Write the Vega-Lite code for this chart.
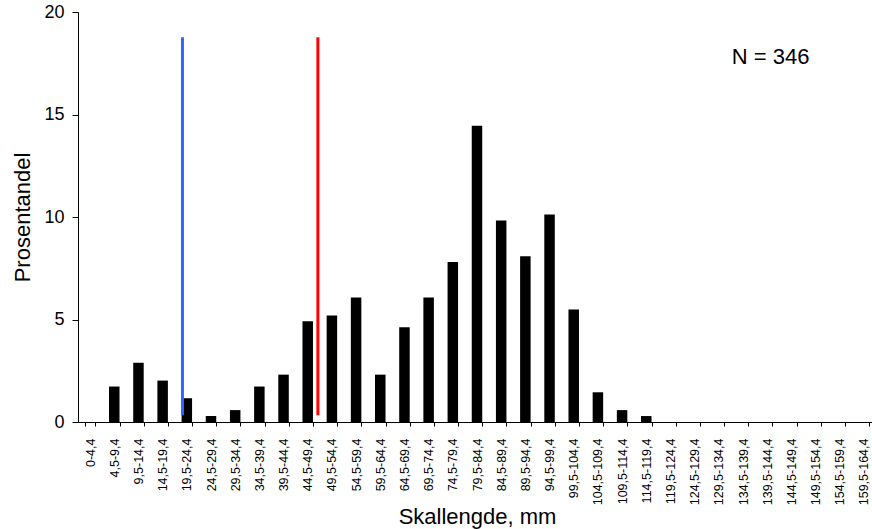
{
  "$schema": "https://vega.github.io/schema/vega-lite/v6.json",
  "autosize": {"type": "none"},
  "padding": {"left": 78, "top": 12, "right": 0, "bottom": 107},
  "width": 794,
  "height": 410,
  "config": {
    "view": {"stroke": null},
    "font": "Liberation Sans",
    "axis": {"domainColor": "black", "tickColor": "black", "labelColor": "black", "titleColor": "black", "grid": false, "labelFont": "Liberation Sans", "titleFont": "Liberation Sans", "titleFontWeight": "normal"}
  },
  "datasets": {
    "bars": [
      {"klasse": "0-4,4", "prosent": 0},
      {"klasse": "4,5-9,4", "prosent": 1.73},
      {"klasse": "9,5-14,4", "prosent": 2.89},
      {"klasse": "14,5-19,4", "prosent": 2.02},
      {"klasse": "19,5-24,4", "prosent": 1.16},
      {"klasse": "24,5-29,4", "prosent": 0.29},
      {"klasse": "29,5-34,4", "prosent": 0.58},
      {"klasse": "34,5-39,4", "prosent": 1.73},
      {"klasse": "39,5-44,4", "prosent": 2.31},
      {"klasse": "44,5-49,4", "prosent": 4.91},
      {"klasse": "49,5-54,4", "prosent": 5.2},
      {"klasse": "54,5-59,4", "prosent": 6.07},
      {"klasse": "59,5-64,4", "prosent": 2.31},
      {"klasse": "64,5-69,4", "prosent": 4.62},
      {"klasse": "69,5-74,4", "prosent": 6.07},
      {"klasse": "74,5-79,4", "prosent": 7.8},
      {"klasse": "79,5-84,4", "prosent": 14.45},
      {"klasse": "84,5-89,4", "prosent": 9.83},
      {"klasse": "89,5-94,4", "prosent": 8.09},
      {"klasse": "94,5-99,4", "prosent": 10.12},
      {"klasse": "99,5-104,4", "prosent": 5.49},
      {"klasse": "104,5-109,4", "prosent": 1.45},
      {"klasse": "109,5-114,4", "prosent": 0.58},
      {"klasse": "114,5-119,4", "prosent": 0.29},
      {"klasse": "119,5-124,4", "prosent": 0},
      {"klasse": "124,5-129,4", "prosent": 0},
      {"klasse": "129,5-134,4", "prosent": 0},
      {"klasse": "134,5-139,4", "prosent": 0},
      {"klasse": "139,5-144,4", "prosent": 0},
      {"klasse": "144,5-149,4", "prosent": 0},
      {"klasse": "149,5-154,4", "prosent": 0},
      {"klasse": "154,5-159,4", "prosent": 0},
      {"klasse": "159,5-164,4", "prosent": 0}
    ],
    "lines": [
      {"mm": 21.6, "fra": 0.33, "til": 18.77, "farge": "blå"},
      {"mm": 49.6, "fra": 0.33, "til": 18.77, "farge": "rød"}
    ],
    "notes": [
      {"mm": 143.2, "y": 17.8, "label": "N = 346"}
    ]
  },
  "layer": [
    {
      "data": {"name": "bars"},
      "mark": {"type": "bar", "color": "black"},
      "encoding": {
        "x": {
          "field": "klasse", "type": "nominal", "sort": null,
          "scale": {"range": [0, 798], "paddingInner": 0.566, "paddingOuter": 0.283},
          "axis": {"title": "Skallengde, mm", "titleFontSize": 22, "titlePadding": 2, "labelAngle": -90, "labelFontSize": 12.5, "labelPadding": 12, "tickSize": 4, "tickBand": "extent", "domainWidth": 1}
        },
        "y": {
          "field": "prosent", "type": "quantitative",
          "scale": {"domain": [0, 20], "nice": false},
          "axis": {"title": "Prosentandel", "titleFontSize": 22, "titlePadding": 9, "labelFontSize": 18, "labelPadding": 8, "tickSize": 6, "values": [0, 5, 10, 15, 20]}
        }
      }
    },
    {
      "data": {"name": "lines"},
      "mark": {"type": "rule", "strokeWidth": 3},
      "encoding": {
        "x": {"field": "mm", "type": "quantitative", "scale": {"domain": [0, 165], "range": [0, 798], "nice": false, "zero": false}, "axis": null},
        "y": {"field": "fra", "type": "quantitative"},
        "y2": {"field": "til"},
        "color": {"field": "farge", "type": "nominal", "scale": {"domain": ["blå", "rød"], "range": ["#3366ff", "#ff0000"]}, "legend": null}
      }
    },
    {
      "data": {"name": "notes"},
      "mark": {"type": "text", "fontSize": 22, "color": "black", "baseline": "middle", "align": "center"},
      "encoding": {
        "x": {"field": "mm", "type": "quantitative", "scale": {"domain": [0, 165], "range": [0, 798], "nice": false, "zero": false}, "axis": null},
        "y": {"field": "y", "type": "quantitative"},
        "text": {"field": "label"}
      }
    }
  ],
  "resolve": {"scale": {"x": "independent"}, "axis": {"x": "independent"}}
}
